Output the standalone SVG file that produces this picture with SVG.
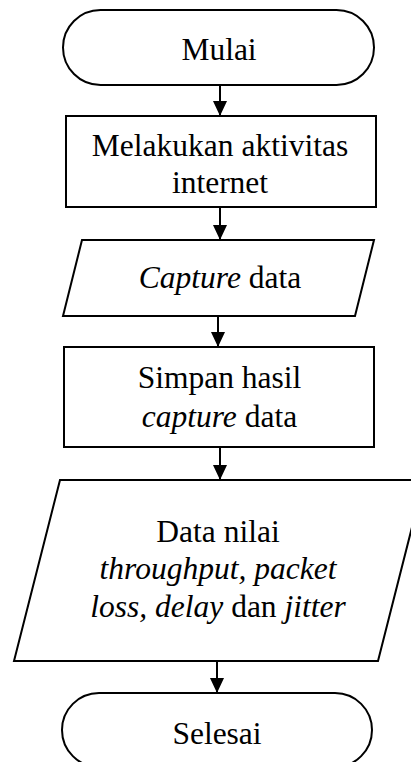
<svg xmlns="http://www.w3.org/2000/svg" width="411" height="762" viewBox="0 0 411 762">
<style>
.shape{fill:#fff;stroke:#000;stroke-width:2}
.t{font-family:"Liberation Serif","Times New Roman",serif;font-size:31.5px;fill:#000;text-anchor:middle}
.i{font-style:italic}
.conn{stroke:#000;stroke-width:2;fill:none;marker-end:url(#ah)}
</style>
<defs>
<marker id="ah" markerUnits="userSpaceOnUse" markerWidth="16" markerHeight="16" viewBox="0 0 16 16" refX="15" refY="8" orient="auto">
<path d="M0,1 L15,8 L0,15 Z" fill="#000"/>
</marker>
</defs>
<rect width="411" height="762" fill="#fff"/>
<g id="connectors">
<line class="conn" x1="220" y1="85" x2="220" y2="116"/>
<line class="conn" x1="220" y1="207" x2="220" y2="240"/>
<line class="conn" x1="218" y1="316" x2="218" y2="347"/>
<line class="conn" x1="220" y1="447" x2="220" y2="480"/>
<line class="conn" x1="217" y1="661" x2="217" y2="693"/>
</g>
<g id="mulai">
<rect class="shape" x="63" y="10" width="311" height="75" rx="37.5" ry="37.5"/>
<text class="t" x="219" y="60">Mulai</text>
</g>
<g id="aktivitas">
<rect class="shape" x="66" y="116" width="310" height="91"/>
<text class="t" x="220" y="156">Melakukan aktivitas</text>
<text class="t" x="220" y="193">internet</text>
</g>
<g id="capture">
<polygon class="shape" points="82,240 374,240 355,316 63,316"/>
<text class="t" x="220" y="288"><tspan class="i">Capture</tspan> data</text>
</g>
<g id="simpan">
<rect class="shape" x="64" y="347" width="310" height="100"/>
<text class="t" x="219.5" y="388">Simpan hasil</text>
<text class="t" x="219.5" y="427"><tspan class="i">capture</tspan> data</text>
</g>
<g id="datanilai">
<polygon class="shape" points="60,480 424,480 378,661 14,661"/>
<text class="t" x="218" y="542">Data nilai</text>
<text class="t i" x="218" y="579">throughput, packet</text>
<text class="t" x="218" y="617"><tspan class="i">loss, delay</tspan> dan <tspan class="i">jitter</tspan></text>
</g>
<g id="selesai">
<rect class="shape" x="62" y="693" width="310" height="74" rx="37" ry="37"/>
<text class="t" x="217" y="744">Selesai</text>
</g>
</svg>
